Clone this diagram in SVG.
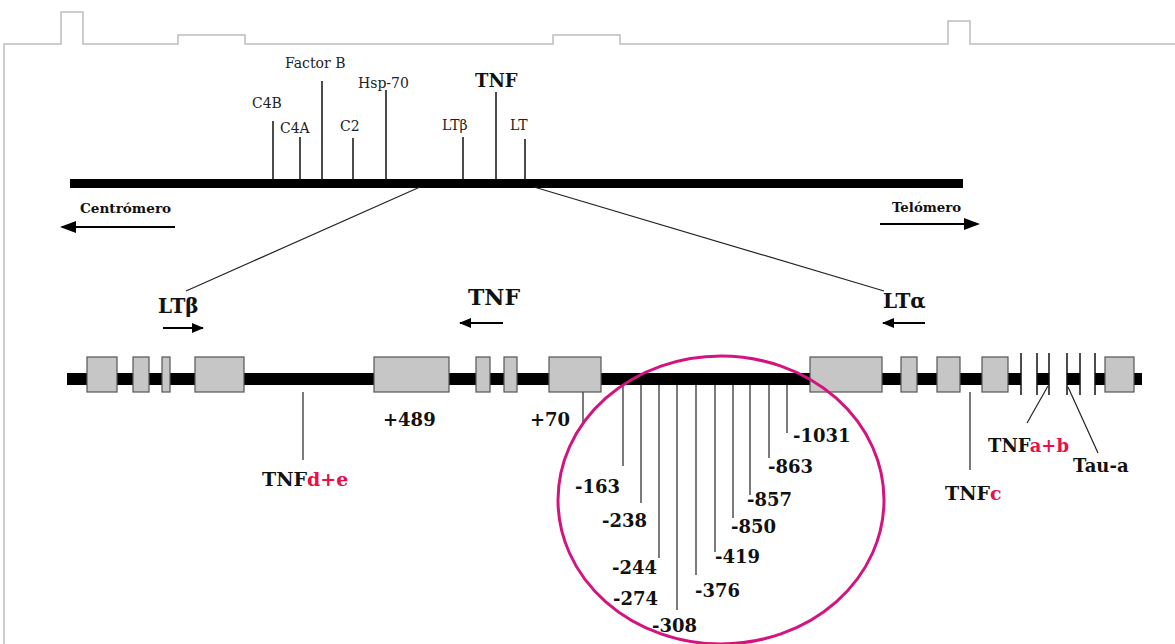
<svg xmlns="http://www.w3.org/2000/svg" width="1175" height="644" viewBox="0 0 1175 644">
<style>
.frame{fill:none;stroke:#bdbdbd;stroke-width:1.5}
.tick{stroke:#111;stroke-width:1.5;fill:none}
.thin{stroke:#222;stroke-width:1.2;fill:none}
.arr{stroke:#000;stroke-width:2;fill:none}
.box{fill:#c6c6c6;stroke:#555;stroke-width:1.2}
.bar{fill:#000}
.sm{font-family:"DejaVu Serif","Liberation Serif",serif;font-size:14px;fill:#222}
.b{font-family:"DejaVu Serif","Liberation Serif",serif;font-weight:bold;fill:#111}
.red{fill:#e8104a}
</style>
<defs>
<marker id="ah" markerWidth="16" markerHeight="12" refX="14" refY="6" orient="auto" markerUnits="userSpaceOnUse">
<path d="M0,0 L16,6 L0,12 Z" fill="#000"/>
</marker>
<marker id="ahs" markerWidth="12" markerHeight="10" refX="11" refY="5" orient="auto" markerUnits="userSpaceOnUse">
<path d="M0,0 L12,5 L0,10 Z" fill="#000"/>
</marker>
</defs>
<path class="frame" d="M4,644 V44 H61 V12 H83 V44 H178 V35 H245 V44 H553 V35 H620 V44 H948 V21 H970 V44 H1175"/>

<g id="chromosome">
<rect class="bar" x="70" y="179" width="893" height="9"/>
<line class="tick" x1="273" y1="121" x2="273" y2="180"/>
<line class="tick" x1="300" y1="137" x2="300" y2="180"/>
<line class="tick" x1="322" y1="81" x2="322" y2="180"/>
<line class="tick" x1="353" y1="138" x2="353" y2="180"/>
<line class="tick" x1="386" y1="90" x2="386" y2="180"/>
<line class="tick" x1="463" y1="137" x2="463" y2="180"/>
<line class="tick" x1="496" y1="92" x2="496" y2="180"/>
<line class="tick" x1="525" y1="139" x2="525" y2="180"/>
<text class="sm" x="285" y="68">Factor B</text>
<text class="sm" x="252" y="108">C4B</text>
<text class="sm" x="280" y="133">C4A</text>
<text class="sm" x="340" y="131">C2</text>
<text class="sm" x="358" y="88">Hsp-70</text>
<text class="b" x="475" y="87" font-size="18">TNF</text>
<text class="sm" x="442" y="130">LTβ</text>
<text class="sm" x="510" y="130">LT</text>
</g>

<g id="centromero">
<text class="b" x="80" y="213" font-size="13.6">Centrómero</text>
<line class="arr" x1="175" y1="227" x2="62" y2="227" marker-end="url(#ah)"/>
</g>
<g id="telomero">
<text class="b" x="892" y="212" font-size="13.3">Telómero</text>
<line class="arr" x1="880" y1="224" x2="978" y2="224" marker-end="url(#ah)"/>
</g>

<g id="connectors">
<line class="thin" x1="420" y1="187" x2="186" y2="291"/>
<line class="thin" x1="534" y1="187" x2="884" y2="291"/>
<line class="thin" x1="303" y1="392" x2="303" y2="460"/>
<line class="thin" x1="583" y1="392" x2="583" y2="425"/>
<line class="thin" x1="970" y1="392" x2="970" y2="470"/>
<line class="thin" x1="1048" y1="386" x2="1027" y2="423"/>
<line class="thin" x1="1068" y1="387" x2="1098" y2="453"/>
<line class="thin" x1="623" y1="385" x2="623" y2="466"/>
<line class="thin" x1="641" y1="385" x2="641" y2="503"/>
<line class="thin" x1="659" y1="385" x2="659" y2="558"/>
<line class="thin" x1="677" y1="385" x2="677" y2="610"/>
<line class="thin" x1="696" y1="385" x2="696" y2="575"/>
<line class="thin" x1="715" y1="385" x2="715" y2="552"/>
<line class="thin" x1="733" y1="385" x2="733" y2="518"/>
<line class="thin" x1="750" y1="385" x2="750" y2="495"/>
<line class="thin" x1="769" y1="385" x2="769" y2="458"/>
<line class="thin" x1="787" y1="385" x2="787" y2="433"/>
</g>

<g id="labels-genes">
<text class="b" x="158" y="313" font-size="20">LTβ</text>
<line class="arr" x1="163" y1="328" x2="203" y2="328" marker-end="url(#ahs)"/>
<text class="b" x="468" y="305" font-size="22">TNF</text>
<line class="arr" x1="503" y1="323" x2="460" y2="323" marker-end="url(#ahs)"/>
<text class="b" x="883" y="308" font-size="20">LTα</text>
<line class="arr" x1="925" y1="323" x2="883" y2="323" marker-end="url(#ahs)"/>
</g>

<g id="gene-bar">
<rect class="bar" x="67" y="373" width="954" height="12"/>
<rect class="bar" x="1037" y="373" width="12" height="12"/>
<rect class="bar" x="1067" y="373" width="13" height="12"/>
<rect class="bar" x="1095" y="373" width="47" height="12"/>
<rect class="box" x="87" y="357" width="30" height="35"/>
<rect class="box" x="133" y="357" width="16" height="35"/>
<rect class="box" x="162" y="357" width="8" height="35"/>
<rect class="box" x="195" y="357" width="49" height="35"/>
<rect class="box" x="374" y="357" width="75" height="35"/>
<rect class="box" x="476" y="357" width="14" height="35"/>
<rect class="box" x="504" y="357" width="13" height="35"/>
<rect class="box" x="549" y="357" width="52" height="35"/>
<rect class="box" x="810" y="357" width="72" height="35"/>
<rect class="box" x="901" y="357" width="16" height="35"/>
<rect class="box" x="937" y="357" width="23" height="35"/>
<rect class="box" x="982" y="357" width="26" height="35"/>
<rect class="box" x="1105" y="357" width="29" height="35"/>
<line class="tick" x1="1021" y1="353" x2="1021" y2="395"/>
<line class="tick" x1="1037" y1="353" x2="1037" y2="395"/>
<line class="tick" x1="1049" y1="353" x2="1049" y2="395"/>
<line class="tick" x1="1067" y1="353" x2="1067" y2="395"/>
<line class="tick" x1="1080" y1="353" x2="1080" y2="395"/>
<line class="tick" x1="1095" y1="353" x2="1095" y2="395"/>
</g>

<g id="site-labels">
<text class="b" x="383" y="426" font-size="18">+489</text>
<text class="b" x="530" y="426" font-size="18">+70</text>
<text class="b" x="262" y="486" font-size="19">TNF<tspan class="red">d+e</tspan></text>
<text class="b" x="945" y="500" font-size="19">TNF<tspan class="red">c</tspan></text>
<text class="b" x="988" y="452" font-size="18">TNF<tspan class="red">a+b</tspan></text>
<text class="b" x="1073" y="472" font-size="18">Tau-a</text>
</g>

<g id="promoter">
<ellipse cx="721" cy="500" rx="163" ry="144" fill="none" stroke="#d4137f" stroke-width="3"/>
<g class="b" font-size="18">
<text x="793" y="442">-1031</text>
<text x="768" y="473">-863</text>
<text x="747" y="506">-857</text>
<text x="731" y="533">-850</text>
<text x="715" y="563">-419</text>
<text x="695" y="597">-376</text>
<text x="652" y="632">-308</text>
<text x="613" y="605">-274</text>
<text x="612" y="574">-244</text>
<text x="602" y="527">-238</text>
<text x="575" y="493">-163</text>
</g>
</g>
</svg>
